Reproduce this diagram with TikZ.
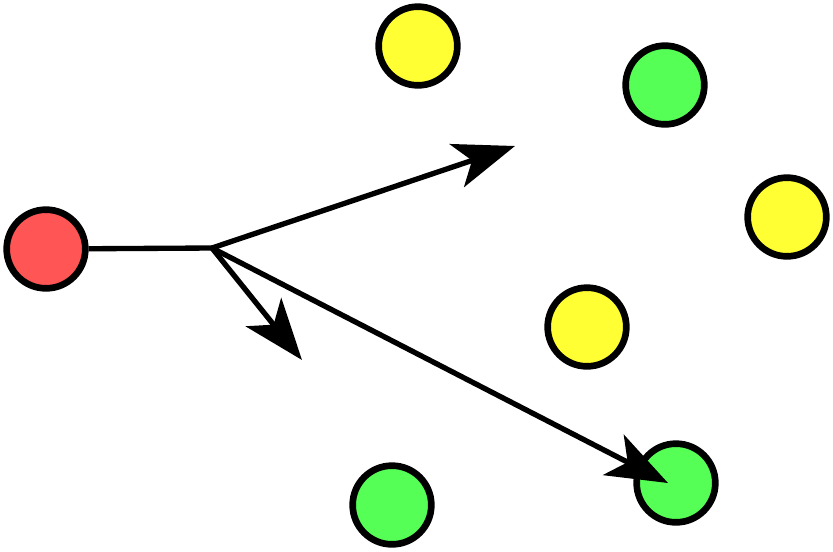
\documentclass[tikz,border=0pt]{standalone}
\usepackage{xcolor}
\usepackage{tikz}
\usetikzlibrary{arrows.meta}
\definecolor{DotRed}{HTML}{FF5555}
\definecolor{DotYellow}{HTML}{FFFF33}
\definecolor{DotGreen}{HTML}{55FF55}

\begin{document}
\begin{tikzpicture}[x=0.75pt, y=-0.75pt,
                      >={Stealth[length=46pt, width=34pt, inset=12pt]},
                      dot/.style={circle, draw=black, line width=5pt, inner sep=0pt,
                                  minimum size=59pt},
                      link/.style={line width=4pt}]
  \useasboundingbox (0,0) rectangle (833,551);
  \node[dot, fill=DotRed] (agent) at (46,249) {};
  \node[dot, fill=DotYellow] (ytop) at (418,46) {};
  \node[dot, fill=DotGreen] (gtop) at (665,85) {};
  \node[dot, fill=DotYellow] (yright) at (787,217) {};
  \node[dot, fill=DotYellow] (ymid) at (587,327) {};
  \node[dot, fill=DotGreen] (gright) at (676,483) {};
  \node[dot, fill=DotGreen] (gbottom) at (392,505) {};
  \coordinate (fork) at (212,248);
  \coordinate (up) at (515,146);
  \coordinate (down) at (302,360);
  \draw[link] (agent) -- (fork);
  \draw[link, ->] (fork) -- (up);
  \draw[link, ->] (fork) -- (down);
  \draw[link, ->] (fork) -- ([xshift=-6pt]gright.center);
\end{tikzpicture}
\end{document}
